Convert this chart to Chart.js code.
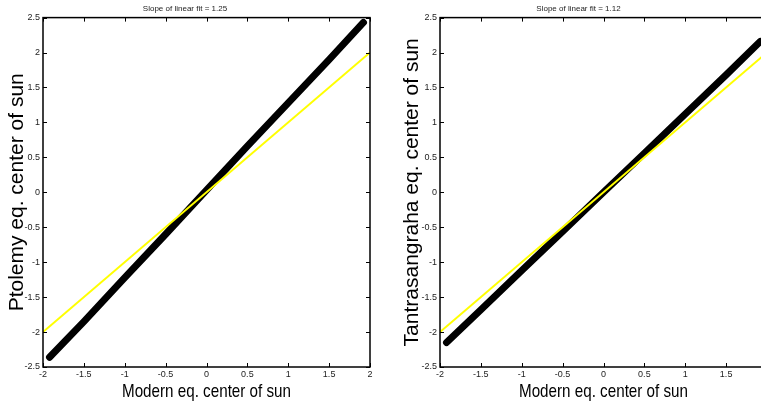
<!DOCTYPE html>
<html>
<head>
<meta charset="utf-8">
<script src="https://cdn.jsdelivr.net/npm/chart.js@4.4.1/dist/chart.umd.min.js"></script>
<style>
    html, body { margin: 0; padding: 0; width: 761px; height: 406px; overflow: hidden; background: #fff; }
    .box { position: absolute; top: 0; height: 406px; }
    #leftBox { left: 0; width: 380px; }
    #rightBox { left: 390px; width: 400px; }
</style>
</head>
<body>
<div class="box" id="leftBox"><canvas id="ptolemyChart"></canvas></div>
<div class="box" id="rightBox"><canvas id="tantraChart"></canvas></div>
<script>
/* globals Chart:false */

// Data
const modernX = [-1.92, -1.5, -1, -0.5, 0, 0.5, 1, 1.5, 1.92];
const ptolemyY = [-2.36, -1.85, -1.22, -0.6, 0.03, 0.66, 1.28, 1.9, 2.43];
const tantraY = [-2.15, -1.68, -1.12, -0.56, 0.0, 0.56, 1.12, 1.68, 2.16];
const identityX = [-2, 2];
const identityY = [-2, 2];
const slopes = ["1.25", "1.12"];
const xTitle = "Modern eq. center of sun";

const sans = "'Liberation Sans', Arial, sans-serif";

const pts = (xs, ys) => xs.map((x, i) => ({ x: x, y: ys[i] }));
const fmt = (v) => String(+Number(v).toFixed(1));

// MATLAB style box with inward ticks, plus the condensed x label
const boxTicks = {
    id: "boxTicks",
    afterDatasetsDraw(chart) {
        const { ctx, chartArea: a, scales: { x, y } } = chart;
        ctx.save();
        ctx.strokeStyle = "#000";
        ctx.lineWidth = 1;
        ctx.beginPath();
        x.ticks.forEach((t) => {
            const px = Math.round(x.getPixelForValue(t.value)) + 0.5;
            ctx.moveTo(px, a.bottom);
            ctx.lineTo(px, a.bottom - 4);
            ctx.moveTo(px, a.top);
            ctx.lineTo(px, a.top + 4);
        });
        y.ticks.forEach((t) => {
            const py = Math.round(y.getPixelForValue(t.value)) + 0.5;
            ctx.moveTo(a.left, py);
            ctx.lineTo(a.left + 4, py);
            ctx.moveTo(a.right, py);
            ctx.lineTo(a.right - 4, py);
        });
        ctx.stroke();
        ctx.lineWidth = 1.5;
        ctx.strokeRect(a.left, a.top, a.right - a.left, a.bottom - a.top);

        // x axis label, squeezed like the narrow Helvetica of the original
        ctx.translate((a.left + a.right) / 2, 392);
        ctx.scale(0.8, 1);
        ctx.fillStyle = "#000";
        ctx.font = "19px " + sans;
        ctx.textAlign = "center";
        ctx.textBaseline = "middle";
        ctx.fillText(xTitle, 0, 0);
        ctx.restore();
    },
};

function makeChart(id, ys, slope, yTitle, yAxisWidth, yTitlePad, rightPad) {
    return new Chart(document.getElementById(id), {
        type: "scatter",
        data: {
            datasets: [
                {
                    data: pts(identityX, identityY),
                    showLine: true,
                    borderColor: "#ffff00",
                    borderWidth: 2,
                    pointRadius: 0,
                    order: 0,
                },
                {
                    data: pts(modernX, ys),
                    showLine: true,
                    borderColor: "#000",
                    borderWidth: 7,
                    borderCapStyle: "round",
                    pointRadius: 0,
                    order: 1,
                },
            ],
        },
        options: {
            responsive: true,
            maintainAspectRatio: false,
            animation: false,
            layout: { padding: { left: 0, right: rightPad, top: 0, bottom: 0 } },
            plugins: {
                legend: { display: false },
                tooltip: { enabled: false },
                title: {
                    display: true,
                    text: "Slope of linear fit = " + slope,
                    color: "#222",
                    font: { family: sans, size: 8, weight: "normal" },
                    padding: { top: 4, bottom: 4 },
                },
            },
            scales: {
                x: {
                    type: "linear",
                    min: -2,
                    max: 2,
                    grid: { display: false, drawTicks: false },
                    border: { display: false },
                    ticks: {
                        stepSize: 0.5,
                        padding: 2,
                        color: "#222",
                        font: { family: sans, size: 9 },
                        maxRotation: 0,
                        callback: fmt,
                    },
                    afterFit: (s) => { s.height = 39; },
                },
                y: {
                    type: "linear",
                    min: -2.5,
                    max: 2.5,
                    grid: { display: false, drawTicks: false },
                    border: { display: false },
                    ticks: {
                        stepSize: 0.5,
                        padding: 3,
                        color: "#222",
                        font: { family: sans, size: 9 },
                        callback: fmt,
                    },
                    title: {
                        display: true,
                        text: yTitle,
                        color: "#000",
                        font: { family: sans, size: 21 },
                        padding: { top: yTitlePad, bottom: 0 },
                    },
                    afterFit: (s) => { s.width = yAxisWidth; },
                },
            },
        },
        plugins: [boxTicks],
    });
}

makeChart("ptolemyChart", ptolemyY, slopes[0], "Ptolemy eq. center of sun", 43, 4.5, 10);
makeChart("tantraChart", tantraY, slopes[1], "Tantrasangraha eq. center of sun", 50, 9.5, 23);
</script>
</body>
</html>
